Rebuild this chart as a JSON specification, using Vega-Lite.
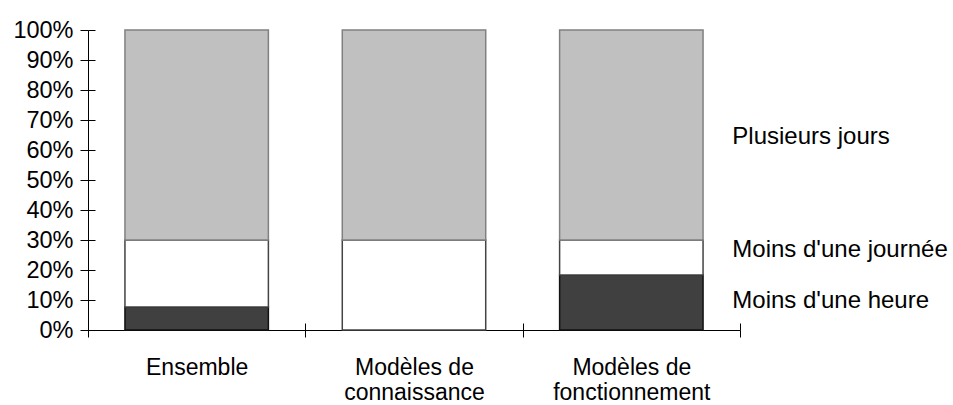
{
  "$schema": "https://vega.github.io/schema/vega-lite/v6.json",
  "width": 652,
  "height": 300,
  "autosize": {"type": "none"},
  "padding": {"left": 88, "top": 30, "right": 213, "bottom": 75},
  "background": "white",
  "config": {
    "view": {"stroke": null},
    "font": "Liberation Sans",
    "axis": {"domainColor": "#000", "tickColor": "#000", "labelColor": "#000", "grid": false, "title": null, "labelFont": "Liberation Sans"}
  },
  "layer": [
    {
      "data": {
        "values": [
          {"groupe": "Ensemble", "duree": "Moins d'une heure", "rang": 1, "pct": 7.7},
          {"groupe": "Ensemble", "duree": "Moins d'une journée", "rang": 2, "pct": 22.3},
          {"groupe": "Ensemble", "duree": "Plusieurs jours", "rang": 3, "pct": 70},
          {"groupe": "Modèles de connaissance", "duree": "Moins d'une heure", "rang": 1, "pct": 0},
          {"groupe": "Modèles de connaissance", "duree": "Moins d'une journée", "rang": 2, "pct": 30},
          {"groupe": "Modèles de connaissance", "duree": "Plusieurs jours", "rang": 3, "pct": 70},
          {"groupe": "Modèles de fonctionnement", "duree": "Moins d'une heure", "rang": 1, "pct": 18.3},
          {"groupe": "Modèles de fonctionnement", "duree": "Moins d'une journée", "rang": 2, "pct": 11.7},
          {"groupe": "Modèles de fonctionnement", "duree": "Plusieurs jours", "rang": 3, "pct": 70}
        ]
      },
      "mark": {"type": "bar", "strokeWidth": 1.5, "width": {"band": 0.66}},
      "encoding": {
        "x": {
          "field": "groupe", "type": "nominal",
          "sort": ["Ensemble", "Modèles de connaissance", "Modèles de fonctionnement"],
          "scale": {"paddingInner": 0, "paddingOuter": 0},
          "axis": {
            "orient": "bottom", "tickBand": "extent", "tickSize": 7, "labelAngle": 0,
            "labelFontSize": 23, "labelPadding": 19, "labelLineHeight": 25, "labelBaseline": "top",
            "labelExpr": "split(replace(datum.label, 'Modèles de ', 'Modèles de|'), '|')"
          }
        },
        "y": {
          "field": "pct", "type": "quantitative", "stack": "zero",
          "scale": {"domain": [0, 100], "nice": false},
          "axis": {
            "orient": "left", "values": [0, 10, 20, 30, 40, 50, 60, 70, 80, 90, 100],
            "tickSize": 8, "labelFontSize": 23.5, "labelPadding": 7,
            "labelExpr": "datum.value + '%'"
          }
        },
        "order": {"field": "rang"},
        "color": {
          "field": "duree", "type": "nominal",
          "scale": {"domain": ["Moins d'une heure", "Moins d'une journée", "Plusieurs jours"], "range": ["#404040", "#ffffff", "#c0c0c0"]},
          "legend": null
        },
        "stroke": {
          "field": "duree", "type": "nominal",
          "scale": {"domain": ["Moins d'une heure", "Moins d'une journée", "Plusieurs jours"], "range": ["#111111", "#444444", "#808080"]},
          "legend": null
        }
      }
    },
    {
      "data": {
        "values": [
          {"label": "Plusieurs jours", "pos": 64.4},
          {"label": "Moins d'une journée", "pos": 26.6},
          {"label": "Moins d'une heure", "pos": 9.6}
        ]
      },
      "mark": {"type": "text", "align": "left", "baseline": "middle", "dx": 101, "fontSize": 24, "font": "Liberation Sans", "color": "#000"},
      "encoding": {
        "x": {
          "datum": "Modèles de fonctionnement", "type": "nominal",
          "axis": {"orient": "bottom", "tickBand": "extent", "tickSize": -7, "labels": false, "domain": false}
        },
        "y": {
          "field": "pos", "type": "quantitative",
          "axis": {"orient": "left", "values": [0, 10, 20, 30, 40, 50, 60, 70, 80, 90, 100], "tickSize": -7, "labels": false, "domain": false}
        },
        "text": {"field": "label"}
      }
    }
  ],
  "resolve": {"axis": {"x": "independent", "y": "independent"}}
}
